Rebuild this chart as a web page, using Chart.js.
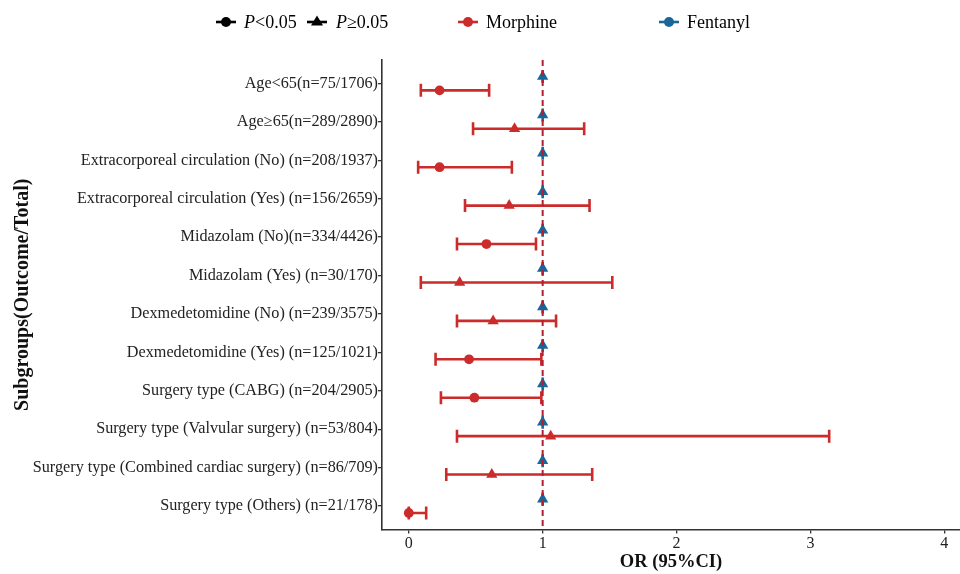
<!DOCTYPE html>
<html><head><meta charset="utf-8">
<script src="https://cdn.jsdelivr.net/npm/chart.js@4.4.1/dist/chart.umd.min.js"></script>
<style>html,body{margin:0;padding:0;background:#fff;overflow:hidden;}#wrap{width:960px;height:574px;position:relative;}canvas{display:block;}</style>
</head><body><div id="wrap"><canvas id="c" width="960" height="574"></canvas></div>
<script>
// ---- data ----
const categories = [
  "Age<65(n=75/1706)",
  "Age\u226565(n=289/2890)",
  "Extracorporeal circulation (No) (n=208/1937)",
  "Extracorporeal circulation (Yes) (n=156/2659)",
  "Midazolam (No)(n=334/4426)",
  "Midazolam (Yes) (n=30/170)",
  "Dexmedetomidine (No) (n=239/3575)",
  "Dexmedetomidine (Yes) (n=125/1021)",
  "Surgery type (CABG) (n=204/2905)",
  "Surgery type (Valvular surgery) (n=53/804)",
  "Surgery type (Combined cardiac surgery) (n=86/709)",
  "Surgery type (Others) (n=21/178)"
];
const morphineOR   = [0.23, 0.79, 0.23, 0.75, 0.58, 0.38, 0.63, 0.45, 0.49, 1.06, 0.62, 0.00];
const morphineLow  = [0.09, 0.48, 0.07, 0.42, 0.36, 0.09, 0.36, 0.20, 0.24, 0.36, 0.28, 0.00];
const morphineHigh = [0.60, 1.31, 0.77, 1.35, 0.95, 1.52, 1.10, 0.99, 0.99, 3.14, 1.37, 0.13];
const morphineSig  = [true, false, true, false, true, false, false, true, true, false, false, true];
const fentanylOR   = [1,1,1,1,1,1,1,1,1,1,1,1];
const fentanylLow  = [1,1,1,1,1,1,1,1,1,1,1,1];
const fentanylHigh = [1,1,1,1,1,1,1,1,1,1,1,1];
const fentanylSig  = [false,false,false,false,false,false,false,false,false,false,false,false];
const xTicks = [0, 1, 2, 3, 4];
const refValue = 1;

// ---- styles ----
const RED = '#CC2B2B', BLUE = '#17679A', VLINE = '#B02030';
const SERIF = '"Liberation Serif", "DejaVu Serif", serif';

function mkData(or, lo, hi, off) {
  return or.map((v, i) => ({ x: v, y: i + off, lo: lo[i], hi: hi[i] }));
}

const errorBars = {
  id: 'errorBars',
  beforeDatasetsDraw(chart) {
    const { ctx, scales: { x, y } } = chart;
    chart.data.datasets.forEach((ds) => {
      ctx.save();
      ctx.strokeStyle = ds.borderColor;
      ctx.lineWidth = 2.6;
      ctx.lineCap = 'butt';
      ds.data.forEach((p) => {
        const yp = y.getPixelForValue(p.y);
        const x1 = x.getPixelForValue(p.lo), x2 = x.getPixelForValue(p.hi);
        ctx.beginPath();
        ctx.moveTo(x1, yp); ctx.lineTo(x2, yp);
        ctx.moveTo(x1, yp - 6.5); ctx.lineTo(x1, yp + 6.5);
        ctx.moveTo(x2, yp - 6.5); ctx.lineTo(x2, yp + 6.5);
        ctx.stroke();
      });
      ctx.restore();
    });
  }
};

const refLine = {
  id: 'refLine',
  afterDatasetsDraw(chart) {
    const { ctx, chartArea, scales: { x } } = chart;
    const xp = x.getPixelForValue(refValue);
    ctx.save();
    ctx.strokeStyle = VLINE;
    ctx.lineWidth = 2;
    ctx.setLineDash([6, 4]);
    ctx.beginPath();
    ctx.moveTo(xp, chartArea.top);
    ctx.lineTo(xp, chartArea.bottom);
    ctx.stroke();
    ctx.restore();
  }
};

// let the plot panel run to the right edge of the canvas
const stretchRight = {
  id: 'stretchRight',
  afterLayout(chart) {
    const x = chart.scales.x, ca = chart.chartArea, r = chart.width;
    x.right = r; x.width = r - x.left;
    ca.right = r; ca.width = r - ca.left;
    x.configure();
  }
};

function drawMarker(ctx, cx, cy, color, style) {
  ctx.save();
  ctx.strokeStyle = color; ctx.fillStyle = color; ctx.lineWidth = 2.6;
  ctx.beginPath(); ctx.moveTo(cx - 10, cy); ctx.lineTo(cx + 10, cy); ctx.stroke();
  ctx.beginPath();
  if (style === 'circle') {
    ctx.arc(cx, cy, 5, 0, Math.PI * 2);
  } else {
    ctx.moveTo(cx, cy - 6.5); ctx.lineTo(cx + 6, cy + 3.5); ctx.lineTo(cx - 6, cy + 3.5); ctx.closePath();
  }
  ctx.fill();
  ctx.restore();
}

const customLegend = {
  id: 'customLegend',
  afterDraw(chart) {
    const ctx = chart.ctx;
    const cy = 22;
    ctx.save();
    ctx.textBaseline = 'middle';
    ctx.fillStyle = '#000';
    drawMarker(ctx, 226, cy, '#000', 'circle');
    ctx.font = 'italic 18px ' + SERIF;
    ctx.fillText('P', 244, cy + 1);
    let w = ctx.measureText('P').width;
    ctx.font = '18px ' + SERIF;
    ctx.fillText('<0.05', 244 + w, cy + 1);
    drawMarker(ctx, 317, cy, '#000', 'triangle');
    ctx.font = 'italic 18px ' + SERIF;
    ctx.fillText('P', 336, cy + 1);
    w = ctx.measureText('P').width;
    ctx.font = '18px ' + SERIF;
    ctx.fillText('\u22650.05', 336 + w, cy + 1);
    drawMarker(ctx, 468, cy, RED, 'circle');
    ctx.fillStyle = '#000';
    ctx.fillText('Morphine', 486, cy + 1);
    drawMarker(ctx, 669, cy, BLUE, 'circle');
    ctx.fillStyle = '#000';
    ctx.fillText('Fentanyl', 687, cy + 1);
    ctx.restore();
  }
};

function noPad(s) { s.paddingLeft = 0; s.paddingRight = 0; s.paddingTop = 0; s.paddingBottom = 0; }

new Chart(document.getElementById('c'), {
  type: 'scatter',
  data: {
    datasets: [
      {
        label: 'Morphine',
        data: mkData(morphineOR, morphineLow, morphineHigh, 0.18),
        borderColor: RED, backgroundColor: RED,
        pointStyle: morphineSig.map(s => s ? 'circle' : 'triangle'),
        pointRadius: morphineSig.map(s => s ? 4.9 : 6.5),
        pointBorderWidth: 0
      },
      {
        label: 'Fentanyl',
        data: mkData(fentanylOR, fentanylLow, fentanylHigh, -0.18),
        borderColor: BLUE, backgroundColor: BLUE,
        pointStyle: fentanylSig.map(s => s ? 'circle' : 'triangle'),
        pointRadius: fentanylSig.map(s => s ? 4.9 : 6.5),
        pointBorderWidth: 0
      }
    ]
  },
  options: {
    responsive: false,
    animation: false,
    devicePixelRatio: 1,
    layout: { padding: { top: 60, right: 0, left: 0, bottom: 0 } },
    plugins: { legend: { display: false }, tooltip: { enabled: false } },
    scales: {
      x: {
        type: 'linear',
        min: -0.2, max: 4.117,
        afterBuildTicks(s) { s.ticks = xTicks.map(v => ({ value: v })); },
        afterFit(s) { s.height = 44.5; noPad(s); },
        grid: { drawOnChartArea: false, drawTicks: true, tickLength: 4, color: '#333', lineWidth: 1.3 },
        border: { display: true, color: '#333', width: 1.6 },
        ticks: { color: '#222', font: { family: SERIF, size: 16 }, padding: 1, callback: v => String(v) },
        title: { display: true, text: 'OR (95%CI)', color: '#111', font: { family: SERIF, size: 18.5, weight: 'bold' }, padding: { top: 0, bottom: 1 } }
      },
      y: {
        type: 'linear',
        reverse: true,
        min: -0.61, max: 11.61,
        afterBuildTicks(s) { s.ticks = categories.map((c, i) => ({ value: i })); },
        afterFit(s) { s.width = 382; noPad(s); },
        grid: { drawOnChartArea: false, drawTicks: true, tickLength: 4, color: '#333', lineWidth: 1.3 },
        border: { display: true, color: '#333', width: 1.6 },
        ticks: { color: '#222', font: { family: SERIF, size: 16.2 }, padding: 0, autoSkip: false, callback: v => categories[v] },
        title: { display: true, text: 'Subgroups(Outcome/Total)', color: '#111', font: { family: SERIF, size: 20, weight: 'bold' }, padding: { top: 11, bottom: 0 } }
      }
    }
  },
  plugins: [stretchRight, errorBars, refLine, customLegend]
});
</script>
</body></html>
